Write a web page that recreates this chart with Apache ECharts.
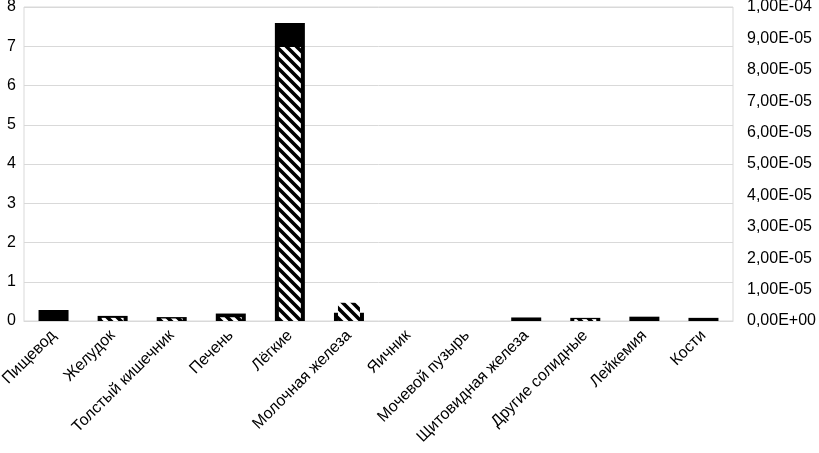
<!DOCTYPE html>
<html>
<head>
<meta charset="utf-8">
<script src="https://cdn.jsdelivr.net/npm/echarts@6/dist/echarts.min.js"></script>
<style>
html,body{margin:0;padding:0;background:#fff;}
#chart{width:819px;height:453px;}
</style>
</head>
<body>
<div id="chart"></div>
<script>
const categories = ['Пищевод','Желудок','Толстый кишечник','Печень','Лёгкие','Молочная железа','Яичник','Мочевой пузырь','Щитовидная железа','Другие солидные','Лейкемия','Кости'];
const blackValues = [0.28, 0.13, 0.10, 0.19, 7.59, 0.21, 0, 0, 0.09, 0.08, 0.11, 0.08];
const hatchedValues = [0, 1.0e-6, 8e-7, 1.2e-6, 8.73e-5, 5.8e-6, 0, 0, 0, 6e-7, 0, 0];
const leftTicks = {min: 0, max: 8, interval: 1};
const rightTicks = {min: 0, max: 1e-4, interval: 1e-5};

function sci(v) {
  if (Math.abs(v) < 1e-12) return '0,00E+00';
  let e = Math.floor(Math.log10(Math.abs(v)) + 1e-9);
  let m = v / Math.pow(10, e);
  let ms = m.toFixed(2);
  if (parseFloat(ms) >= 10) { e += 1; ms = (v / Math.pow(10, e)).toFixed(2); }
  const sign = e < 0 ? '-' : '+';
  const ae = Math.abs(e);
  return ms.replace('.', ',') + 'E' + sign + (ae < 10 ? '0' + ae : String(ae));
}

const pc = document.createElement('canvas');
pc.width = 10; pc.height = 10;
const ctx = pc.getContext('2d');
ctx.fillStyle = '#fff';
ctx.fillRect(0, 0, 10, 10);
ctx.strokeStyle = '#000';
ctx.lineWidth = 3.6;
ctx.beginPath();
ctx.moveTo(-10, -10); ctx.lineTo(20, 20);
ctx.moveTo(-10, 0); ctx.lineTo(10, 20);
ctx.moveTo(0, -10); ctx.lineTo(20, 10);
ctx.stroke();

const font = 'Liberation Sans, Arial, sans-serif';
const chart = echarts.init(document.getElementById('chart'));
chart.setOption({
  animation: false,
  backgroundColor: '#fff',
  grid: {left: 24, right: 86, top: 7, bottom: 132, show: true, borderColor: '#d9d9d9', borderWidth: 1,
         containLabel: false, outerBoundsMode: 'none'},
  xAxis: [
    {type: 'category', data: categories, axisTick: {show: false},
     axisLine: {show: true, lineStyle: {color: '#d9d9d9'}},
     axisLabel: {rotate: 45, color: '#000', fontSize: 16, fontFamily: font, margin: 12, interval: 0}},
    {type: 'category', data: categories, show: false}
  ],
  yAxis: [
    {type: 'value', min: leftTicks.min, max: leftTicks.max, interval: leftTicks.interval,
     axisLine: {show: false}, axisTick: {show: false},
     splitLine: {lineStyle: {color: '#d9d9d9', width: 1}},
     axisLabel: {color: '#000', fontSize: 16, fontFamily: font, margin: 8}},
    {type: 'value', min: rightTicks.min, max: rightTicks.max, interval: rightTicks.interval,
     position: 'right', axisLine: {show: false}, axisTick: {show: false}, splitLine: {show: false},
     axisLabel: {color: '#000', fontSize: 16, fontFamily: font, margin: 14, formatter: sci}}
  ],
  series: [
    {type: 'bar', data: blackValues, xAxisIndex: 0, yAxisIndex: 0, barWidth: 30,
     itemStyle: {color: '#000'}, z: 2},
    {type: 'bar', data: hatchedValues, xAxisIndex: 1, yAxisIndex: 1, barWidth: 22,
     itemStyle: {color: {image: pc, repeat: 'repeat'}}, z: 3}
  ]
});
</script>
</body>
</html>
